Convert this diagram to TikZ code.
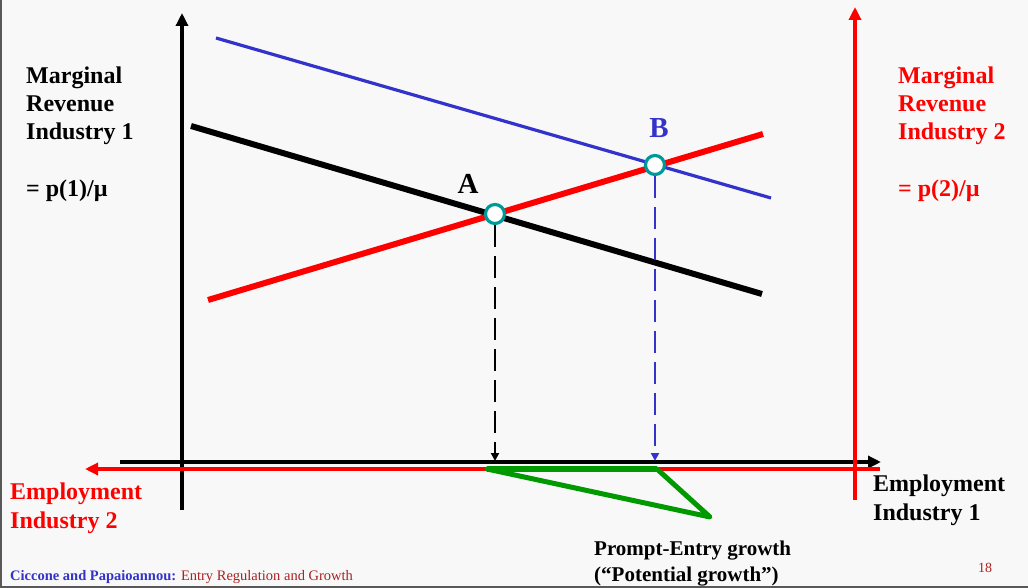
\documentclass[tikz,border=0pt]{standalone}
\usepackage{fontspec}
\setmainfont{Liberation Serif}
\usetikzlibrary{arrows.meta}
\definecolor{slidebg}{HTML}{F8F8F8}
\definecolor{mrred}{HTML}{FF0000}
\definecolor{mrblue}{HTML}{3333CC}
\definecolor{ringteal}{HTML}{009999}
\definecolor{growgreen}{HTML}{009900}
\definecolor{pagered}{HTML}{AA2222}

\begin{document}
\begin{tikzpicture}[x=1pt,y=-1pt,
  axisline/.style={line width=3.5pt,-{Triangle[length=13pt,width=12pt]}},
  mrline/.style={line width=6pt},
  dropline/.style={line width=2.6pt,dash pattern=on 22pt off 9pt,-{Triangle[length=8pt,width=8pt]}},
  eqpoint/.style={circle,draw=ringteal,fill=white,line width=3.2pt,inner sep=0pt,minimum size=19pt},
  bigtext/.style={font=\bfseries\fontsize{24}{28.5}\selectfont,align=left,inner sep=0pt},
  ptlabel/.style={font=\bfseries\fontsize{29}{30}\selectfont,inner sep=0pt,anchor=base}]
  % page
  \useasboundingbox (0,0) rectangle (1028,588);
  \fill[slidebg] (0,0) rectangle (1028,588);
  \draw[gray!70!black,line width=2pt] (1,0) -- (1,587) -- (1028,587);
  % axes
  \coordinate (o1) at (182,510);
  \coordinate (y1) at (182,13);
  \coordinate (x1s) at (120,462);
  \coordinate (x1) at (881,462);
  \coordinate (o2) at (855,500);
  \coordinate (y2) at (855,7);
  \coordinate (x2s) at (880,469);
  \coordinate (x2) at (85,469);
  \draw[axisline] (o1) -- (y1);
  \draw[axisline] (x1s) -- (x1);
  \draw[axisline,mrred] (x2s) -- (x2);
  \draw[axisline,mrred] (o2) -- (y2);
  % marginal revenue curves
  \coordinate (b1) at (216,38);
  \coordinate (b2) at (771,198);
  \coordinate (k1) at (191,126);
  \coordinate (k2) at (762,294);
  \coordinate (r1) at (208,300);
  \coordinate (r2) at (763,134);
  \draw[mrblue,line width=3.2pt] (b1) -- (b2);
  \draw[mrline] (k1) -- (k2);
  \draw[mrline,mrred] (r1) -- (r2);
  % growth triangle
  \coordinate (gA) at (487,469);
  \coordinate (gB) at (657,469);
  \coordinate (gC) at (710,517);
  \draw[growgreen,line width=6pt] (gA) -- (gB);
  \draw[growgreen,line width=5pt,line join=round,line cap=round] (gB) -- (gC) -- (gA);
  % equilibria
  \node[eqpoint] (A) at (495,214) {};
  \node[eqpoint] (B) at (655,165) {};
  \coordinate (Ax) at (495,461);
  \coordinate (Bx) at (655,461);
  \draw[dropline] (A) -- (Ax);
  \draw[dropline,mrblue] (B) -- (Bx);
  \node[ptlabel] (labA) at (468,194) {A};
  \node[ptlabel,text=mrblue] (labB) at (659,138) {B};
  % labels (base = last line)
  \node[bigtext,anchor=base west] (mr1) at (26,197) {Marginal\\Revenue\\Industry 1\\[28.5pt]= p(1)/µ};
  \node[bigtext,anchor=base west,text=mrred] (mr2) at (898,197) {Marginal\\Revenue\\Industry 2\\[28.5pt]= p(2)/µ};
  \node[bigtext,anchor=base west,text=mrred] (emp2) at (10,528) {Employment\\Industry 2};
  \node[bigtext,anchor=base west] (emp1) at (873,520) {Employment\\Industry 1};
  \node[font=\bfseries\fontsize{21}{26}\selectfont,align=left,inner sep=0pt,anchor=base west] (grow) at (594,581) {Prompt-Entry growth\\(“Potential growth”)};
  \node[font=\fontsize{14.5}{16}\selectfont,inner sep=0pt,anchor=base west] (foot) at (10,580) {\textcolor{mrblue}{\bfseries Ciccone and Papaioannou:} \textcolor{pagered}{Entry Regulation and Growth}};
  \node[font=\fontsize{14}{16}\selectfont,text=pagered,inner sep=0pt,anchor=base] (page) at (985,572) {18};
\end{tikzpicture}
\end{document}
